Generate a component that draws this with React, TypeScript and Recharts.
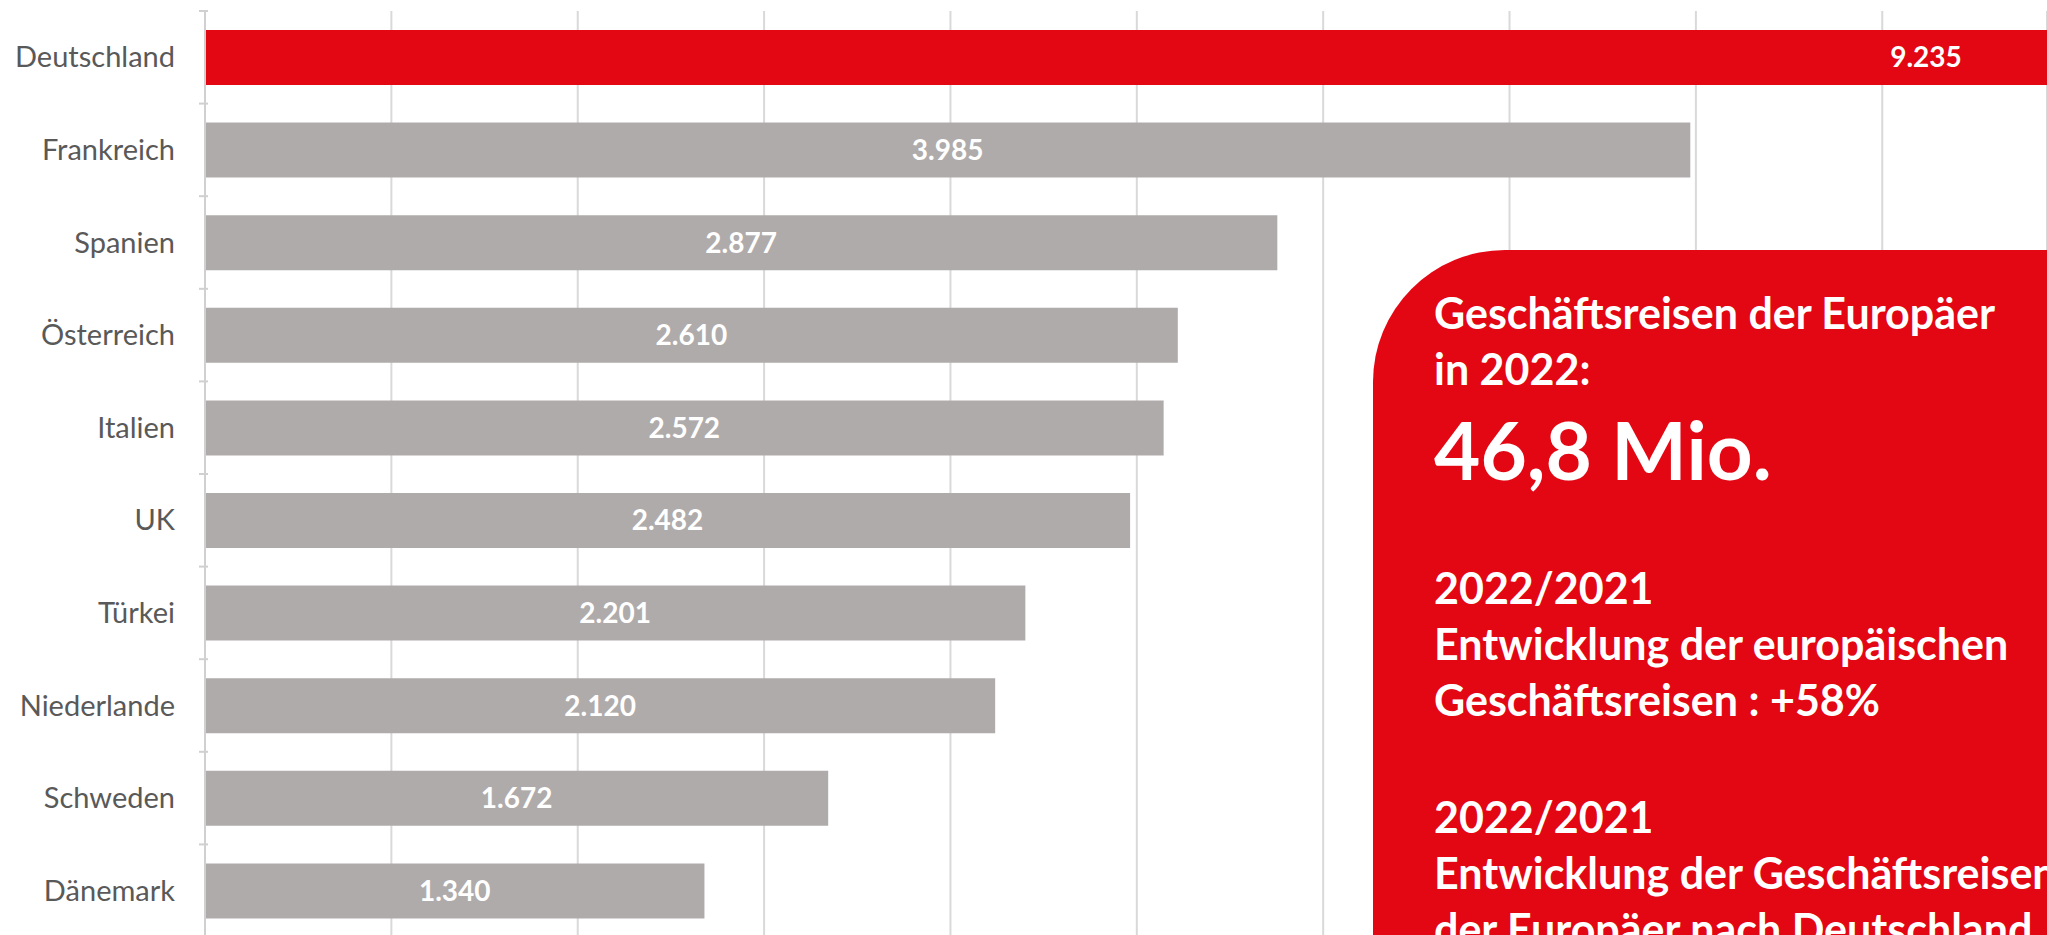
// Geschäftsreisen der Europäer 2022 — horizontal bars per country, with the
// red call-out box laid over the right side of the plot.

import { Bar, BarChart, CartesianGrid, Cell, LabelList, XAxis, YAxis } from "recharts";

const countries = [
  "Deutschland",
  "Frankreich",
  "Spanien",
  "Österreich",
  "Italien",
  "UK",
  "Türkei",
  "Niederlande",
  "Schweden",
  "Dänemark",
];
const trips = [9235, 3985, 2877, 2610, 2572, 2482, 2201, 2120, 1672, 1340];
const gridTicks = [0, 500, 1000, 1500, 2000, 2500, 3000, 3500, 4000, 4500];
// the source chart is cropped: only this much of the value axis is visible
const visibleMax = 4942;

const boxLines = {
  head: ["Geschäftsreisen der Europäer", "in 2022:"],
  total: "46,8 Mio.",
  block1: ["2022/2021", "Entwicklung der europäischen", "Geschäftsreisen : +58%"],
  block2: ["2022/2021", "Entwicklung der Geschäftsreisen", "der Europäer nach Deutschland"],
};

const RED = "#E30613";
const GREY = "#AFABAB";
const FONT = "Lato, 'Open Sans', sans-serif";

const data = countries.map((name, i) => ({ name, value: trips[i] }));

const fmt = (v: number) => String(v).replace(/\B(?=(\d{3})+(?!\d))/g, ".");

interface TickProps {
  x?: number;
  y?: number;
  index?: number;
  payload?: { value: string; offset?: number };
}

function CountryTick({ x = 0, y = 0, index = 0, payload }: TickProps) {
  const half = payload?.offset ?? 0;
  const last = index === countries.length - 1;
  return (
    <g>
      <line x1={x + 2} x2={x + 11} y1={y - half} y2={y - half} stroke="#D0D0D0" strokeWidth={2} />
      {last && (
        <line x1={x + 2} x2={x + 11} y1={y + half} y2={y + half} stroke="#D0D0D0" strokeWidth={2} />
      )}
      <text x={x - 22} y={y} dy={10} textAnchor="end" fill="#595959" fontSize={29} fontFamily={FONT}>
        {payload?.value}
      </text>
    </g>
  );
}

// value axis labels fall outside the crop, so draw nothing for them
const NoTick = () => <g />;

const lineStyle = { fontSize: 43, lineHeight: "56px", height: 56 };

export default function App() {
  return (
    <div
      style={{
        position: "fixed",
        left: 0,
        top: 0,
        width: 2047,
        height: 935,
        overflow: "hidden",
        background: "#fff",
        fontFamily: FONT,
      }}
    >
      <BarChart
        width={2047}
        height={1000}
        data={data}
        layout="vertical"
        margin={{ top: 11, right: 0, bottom: 0, left: 0 }}
        barCategoryGap="20.5%"
      >
        <CartesianGrid horizontal={false} stroke="#D9D9D9" strokeWidth={2} />
        <XAxis
          type="number"
          domain={[0, visibleMax]}
          ticks={gridTicks}
          allowDataOverflow
          height={63}
          axisLine={false}
          tickLine={false}
          tick={<NoTick />}
        />
        <YAxis
          type="category"
          dataKey="name"
          width={205}
          tick={<CountryTick />}
          tickLine={false}
          axisLine={{ stroke: "#D0D0D0", strokeWidth: 2 }}
          interval={0}
        />
        <Bar dataKey="value" isAnimationActive={false}>
          {data.map((d, i) => (
            <Cell key={d.name} fill={i === 0 ? RED : GREY} />
          ))}
          <LabelList
            dataKey="value"
            position="center"
            formatter={(v: number) => fmt(v)}
            fill="#fff"
            fontSize={28}
            fontWeight={700}
            fontFamily={FONT}
          />
        </Bar>
      </BarChart>

      <div
        style={{
          position: "absolute",
          left: 1373,
          top: 250,
          width: 900,
          height: 900,
          background: RED,
          borderTopLeftRadius: 132,
          color: "#fff",
          fontWeight: 700,
          whiteSpace: "nowrap",
          boxSizing: "border-box",
          paddingLeft: 61,
          paddingTop: 35,
        }}
      >
        {boxLines.head.map((t) => (
          <div key={t} style={lineStyle}>
            {t}
          </div>
        ))}
        <div style={{ fontSize: 80, lineHeight: "96px", height: 96, marginTop: 4 }}>{boxLines.total}</div>
        <div style={{ marginTop: 63 }}>
          {boxLines.block1.map((t, i) => (
            <div key={i} style={lineStyle}>
              {t}
            </div>
          ))}
        </div>
        <div style={{ marginTop: 61 }}>
          {boxLines.block2.map((t, i) => (
            <div key={i} style={lineStyle}>
              {t}
            </div>
          ))}
        </div>
      </div>
    </div>
  );
}
